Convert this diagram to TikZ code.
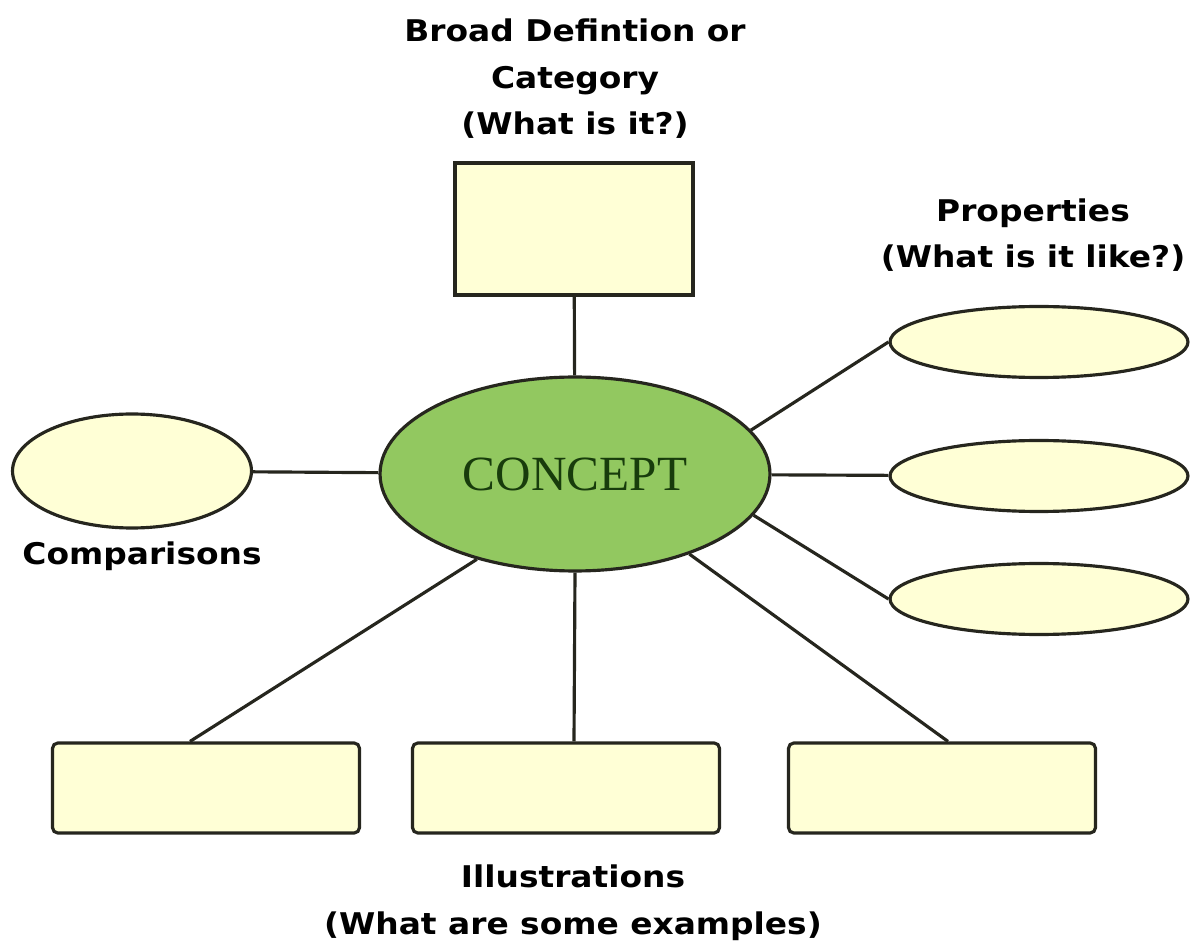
\documentclass[tikz,border=0pt]{standalone}
\usepackage{fontspec}
\setmainfont{Liberation Serif}
\newfontfamily\captionfont[FakeStretch=1.1]{DejaVu Sans}
\usepackage{tikz}
\usetikzlibrary{
  shapes.geometric,
  positioning
}
\definecolor{conceptgreen}{RGB}{146,200,96}
\definecolor{conceptink}{RGB}{24,60,12}
\definecolor{palefill}{RGB}{255,255,214}
\definecolor{outline}{RGB}{38,38,30}
\tikzset{
  x=0.02cm, y=-0.02cm,
  every node/.style={inner sep=0pt},
  hub/.style={ellipse, draw=outline, line width=1.8pt, fill=conceptgreen,
    text=conceptink, font=\fontsize{28}{32}\selectfont},
  oval/.style={ellipse, draw=outline, line width=1.8pt, fill=palefill},
  box/.style={rectangle, draw=outline, line width=1.8pt, fill=palefill},
  caption/.style={align=center, font=\captionfont\bfseries\fontsize{17}{26.5}\selectfont},
  link/.style={draw=outline, line width=1.8pt}
}

\begin{document}
\begin{tikzpicture}
    \useasboundingbox (0,0) rectangle (1191,949);
    % shapes
    \node[hub, minimum width=7.8cm, minimum height=3.88cm] (concept) at (575,474) {CONCEPT};
    \node[box, minimum width=4.76cm, minimum height=2.64cm] (defn) at (574,229) {};
    \node[oval, minimum width=4.78cm, minimum height=2.28cm] (cmp) at (132,471) {};
    \node[oval, minimum width=5.96cm, minimum height=1.42cm] (prop1) at (1039,342) {};
    \node[oval, minimum width=5.96cm, minimum height=1.42cm] (prop2) at (1039,476) {};
    \node[oval, minimum width=5.96cm, minimum height=1.42cm] (prop3) at (1039,599) {};
    \node[box, rounded corners=3pt, minimum width=6.14cm, minimum height=1.8cm] (ill1) at (206,788) {};
    \node[box, rounded corners=3pt, minimum width=6.14cm, minimum height=1.8cm] (ill2) at (566,788) {};
    \node[box, rounded corners=3pt, minimum width=6.14cm, minimum height=1.8cm] (ill3) at (942,788) {};
    % captions (base = last line)
    \node[caption, anchor=base] (defnlabel) at (575,135) {Broad Defintion or\\Category\\(What is it?)};
    \node[caption, anchor=base] (proplabel) at (1033,268) {Properties\\(What is it like?)};
    \node[caption, anchor=base] (cmplabel) at (142,565) {Comparisons};
    \node[caption, anchor=base] (illlabel) at (573,934) {Illustrations\\(What are some examples)};
    % connectors
    \draw[link] (defn) -- (concept);
    \draw[link] (cmp) -- (concept);
    \draw[link] (concept.14) -- (prop1.west);
    \draw[link] (concept) -- (prop2);
    \draw[link] (concept.347) -- (prop3.west);
    \draw[link] (concept.221) -- ([xshift=-0.32cm]ill1.north);
    \draw[link] (concept.south) -- ([xshift=0.16cm]ill2.north);
    \draw[link] (concept.325) -- ([xshift=0.12cm]ill3.north);
\end{tikzpicture}
\end{document}
